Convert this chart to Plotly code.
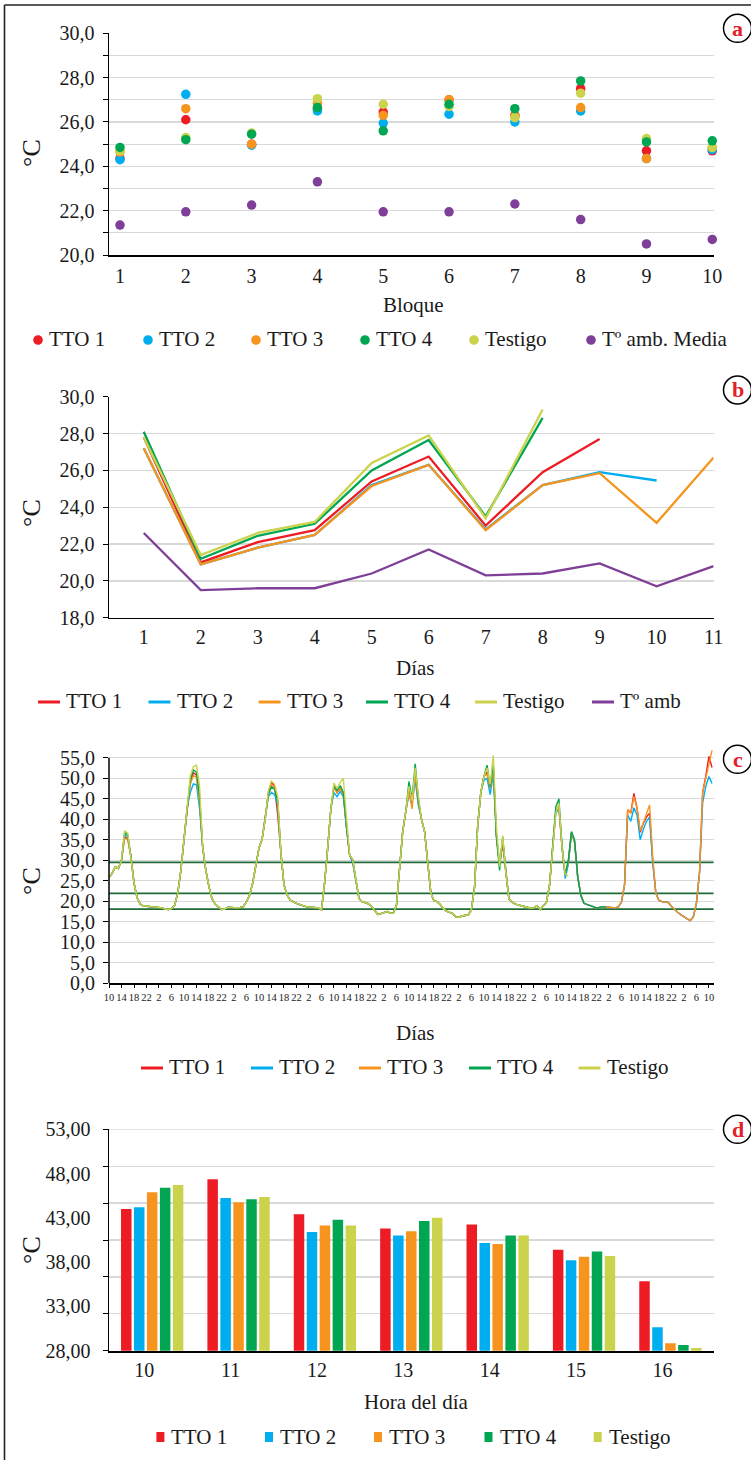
import plotly.graph_objects as go

# ======================= DATA =======================
series_names = ["TTO 1", "TTO 2", "TTO 3", "TTO 4", "Testigo"]

# ---- (a) mean temperature per block
bloques = [1, 2, 3, 4, 5, 6, 7, 8, 9, 10]
a_tto1 = [24.35, 26.1, 25.0, 26.6, 26.45, 27.0, 26.3, 27.5, 24.7, 24.7]
a_tto2 = [24.3, 27.25, 24.95, 26.5, 25.95, 26.35, 26.0, 26.5, 24.35, 24.75]
a_tto3 = [24.65, 26.6, 25.0, 26.85, 26.3, 27.0, 26.25, 26.65, 24.35, 24.85]
a_tto4 = [24.85, 25.2, 25.45, 26.65, 25.6, 26.8, 26.6, 27.85, 25.1, 25.15]
a_test = [24.7, 25.3, 25.5, 27.05, 26.8, 26.7, 26.2, 27.3, 25.25, 24.85]
a_tamb = [21.35, 21.95, 22.25, 23.3, 21.95, 21.95, 22.3, 21.6, 20.5, 20.7]
a_tick_text = ["20,0", "", "22,0", "", "24,0", "", "26,0", "", "28,0", "", "30,0"]

# ---- (b) daily mean temperature
dias = [1, 2, 3, 4, 5, 6, 7, 8, 9, 10, 11]
b_tto1 = [27.8, 21.0, 22.1, 22.75, 25.4, 26.75, 23.0, 25.9, 27.7]
b_tto2 = [27.2, 20.9, 21.8, 22.5, 25.2, 26.3, 22.8, 25.2, 25.9, 25.45]
b_tto3 = [27.2, 20.9, 21.8, 22.5, 25.15, 26.3, 22.75, 25.2, 25.85, 23.15, 26.7]
b_tto4 = [28.1, 21.2, 22.45, 23.1, 26.0, 27.65, 23.5, 28.85]
b_test = [27.8, 21.4, 22.6, 23.2, 26.4, 27.9, 23.4, 29.3]
b_tamb = [22.6, 19.5, 19.6, 19.6, 20.4, 21.7, 20.3, 20.4, 20.95, 19.7, 20.8]
b_tick_text = ["18,0", "20,0", "22,0", "24,0", "26,0", "28,0", "30,0"]

# ---- (c) hourly temperature (one value per hour)
c_hour_labels = ["10", "14", "18", "22", "2", "6"] * 8 + ["10"]
c_tto1 = [
    25.8, 26.8, 28.4, 28.0, 30.0, 35.8, 35.2, 31.0, 24.5, 20.8,
    19.3, 18.9, 18.8, 18.7, 18.7, 18.6, 18.5, 18.4, 18.1, 18.0,
    18.2, 19.0, 22.0, 27.5, 35.0, 42.8, 49.0, 51.3, 50.8, 44.0,
    33.0, 27.5, 23.5, 20.5, 19.3, 18.6, 18.0, 18.1, 18.5, 18.5,
    18.4, 18.4, 18.5, 18.7, 19.9, 21.5, 24.5, 28.5, 33.0, 35.1,
    40.0, 46.5, 49.0, 48.0, 41.0, 32.0, 24.0, 21.5, 20.3, 19.8,
    19.5, 19.2, 18.9, 18.7, 18.6, 18.5, 18.5, 18.4, 17.9, 24.5,
    33.0, 42.5, 48.0, 46.5, 47.5, 46.5, 38.0, 31.3, 29.5, 25.5,
    20.7, 19.9, 19.6, 19.4, 18.8, 17.8, 16.8, 17.0, 17.3, 17.5,
    17.1, 17.1, 19.0, 28.0, 37.0, 42.0, 47.0, 44.0, 51.0, 44.0,
    40.0, 37.0, 29.5, 22.0, 20.1, 19.9, 19.2, 18.2, 17.6, 17.3,
    17.0, 16.2, 16.1, 16.4, 16.5, 16.7, 18.0, 23.5, 38.5, 46.5,
    50.5, 51.5, 47.5, 52.5, 36.0, 29.0, 34.0, 27.0, 20.5, 19.8,
    19.3, 19.1, 18.9, 18.7, 18.4, 18.3, 18.4, 18.9, 18.0, 18.8,
    19.8, 24.0, 33.7, 42.0, 43.0, 33.0, 26.4, 29.5, 36.8, 34.5,
    26.0, 21.5, 19.5, 19.2, 19.0, 18.7, 18.4, 18.5, 18.7, 18.6,
    18.5, 18.4, 18.4, 18.6, 19.8, 24.0, 42.3, 41.5, 46.3, 42.7,
    36.8, 39.0, 40.5, 41.5, 30.0, 22.0, 20.2, 19.9, 19.8, 19.7,
    18.8, 18.0, 17.3, 16.7, 16.2, 15.6, 15.3, 16.2, 19.5, 27.0,
    46.5, 50.5, 55.3, 52.6,
]
c_tto2 = [
    25.8, 26.8, 28.4, 28.0, 30.0, 36.3, 35.8, 31.0, 24.5, 20.8,
    19.3, 18.9, 18.8, 18.7, 18.7, 18.6, 18.5, 18.4, 18.1, 18.0,
    18.2, 19.0, 22.0, 27.5, 35.0, 42.8, 46.5, 48.6, 48.4, 42.5,
    33.0, 27.5, 23.5, 20.5, 19.3, 18.6, 18.0, 18.1, 18.5, 18.5,
    18.4, 18.4, 18.5, 18.7, 19.9, 21.5, 24.5, 28.5, 33.0, 35.1,
    40.0, 45.5, 46.5, 46.0, 43.5, 32.0, 24.0, 21.5, 20.3, 19.8,
    19.5, 19.2, 18.9, 18.7, 18.6, 18.5, 18.5, 18.4, 17.9, 24.5,
    33.0, 42.5, 46.5, 45.5, 46.8, 45.5, 38.0, 31.3, 29.5, 25.5,
    20.7, 19.9, 19.6, 19.4, 18.8, 17.8, 16.8, 17.0, 17.3, 17.5,
    17.1, 17.1, 19.0, 28.0, 37.0, 42.0, 46.0, 44.0, 49.5, 43.5,
    40.0, 37.0, 29.5, 22.0, 20.1, 19.9, 19.2, 18.2, 17.6, 17.3,
    17.0, 16.2, 16.1, 16.4, 16.5, 16.7, 18.0, 23.5, 38.5, 46.5,
    49.5, 50.0, 46.0, 51.0, 36.0, 29.0, 35.0, 27.0, 20.5, 19.8,
    19.3, 19.1, 18.9, 18.7, 18.4, 18.3, 18.4, 18.9, 18.0, 18.8,
    19.8, 24.0, 33.7, 41.5, 42.5, 33.0, 25.5, 29.0, 36.5, 34.5,
    26.0, 21.5, 19.5, 19.2, 19.0, 18.7, 18.4, 18.5, 18.7, 18.6,
    18.5, 18.4, 18.4, 18.6, 19.8, 24.0, 41.0, 39.5, 42.8, 41.0,
    35.0, 37.5, 39.5, 40.5, 29.5, 22.0, 20.2, 19.9, 19.8, 19.7,
    18.8, 18.0, 17.3, 16.7, 16.2, 15.6, 15.3, 16.2, 19.5, 27.0,
    44.0, 48.0, 50.4, 48.7,
]
c_tto3 = [
    25.8, 26.8, 28.4, 28.0, 30.0, 35.4, 35.0, 31.0, 24.5, 20.8,
    19.3, 18.9, 18.8, 18.7, 18.7, 18.6, 18.5, 18.4, 18.1, 18.0,
    18.2, 19.0, 22.0, 27.5, 35.0, 42.8, 48.5, 50.6, 50.3, 44.0,
    33.0, 27.5, 23.5, 20.5, 19.3, 18.6, 18.0, 18.1, 18.5, 18.5,
    18.4, 18.4, 18.5, 18.7, 19.9, 21.5, 24.5, 28.5, 33.0, 35.1,
    40.0, 46.0, 48.2, 47.5, 44.5, 32.0, 24.0, 21.5, 20.3, 19.8,
    19.5, 19.2, 18.9, 18.7, 18.6, 18.5, 18.5, 18.4, 17.9, 24.5,
    33.0, 42.5, 47.8, 46.5, 47.5, 46.0, 38.5, 31.3, 30.2, 25.5,
    20.7, 19.9, 19.6, 19.4, 18.8, 17.8, 16.8, 17.0, 17.3, 17.5,
    17.1, 17.1, 19.0, 28.0, 37.0, 42.0, 46.5, 42.5, 51.0, 44.5,
    40.0, 37.0, 29.5, 22.0, 20.1, 19.9, 19.2, 18.2, 17.6, 17.3,
    17.0, 16.2, 16.1, 16.4, 16.5, 16.7, 18.0, 23.5, 38.5, 46.5,
    50.5, 51.0, 47.5, 52.0, 36.0, 29.0, 35.0, 27.0, 20.5, 19.8,
    19.3, 19.1, 18.9, 18.7, 18.4, 18.3, 18.4, 18.9, 18.0, 18.8,
    19.8, 24.0, 33.7, 42.0, 43.0, 33.0, 26.4, 29.5, 36.8, 34.5,
    26.0, 21.5, 19.5, 19.2, 19.0, 18.7, 18.4, 18.5, 18.7, 18.6,
    18.5, 18.4, 18.4, 18.6, 19.8, 24.0, 42.2, 41.5, 45.5, 42.7,
    37.2, 39.0, 41.5, 43.5, 31.0, 22.0, 20.2, 19.9, 19.8, 19.7,
    18.8, 18.0, 17.3, 16.7, 16.2, 15.6, 15.3, 16.2, 19.5, 27.0,
    46.5, 50.0, 53.5, 56.8,
]
c_tto4 = [
    25.8, 26.8, 28.4, 28.0, 30.0, 36.8, 36.2, 31.0, 24.5, 20.8,
    19.3, 18.9, 18.8, 18.7, 18.7, 18.6, 18.5, 18.4, 18.1, 18.0,
    18.2, 19.0, 22.0, 27.5, 35.0, 42.8, 49.5, 52.0, 51.5, 45.5,
    33.0, 27.5, 23.5, 20.5, 19.3, 18.6, 18.0, 18.1, 18.5, 18.5,
    18.4, 18.4, 18.5, 18.7, 19.9, 21.5, 24.5, 28.5, 33.0, 35.1,
    40.0, 46.0, 47.9, 47.3, 44.5, 32.0, 24.0, 21.5, 20.3, 19.8,
    19.5, 19.2, 18.9, 18.7, 18.6, 18.5, 18.5, 18.4, 17.9, 24.5,
    33.0, 42.5, 48.2, 47.0, 48.2, 46.5, 38.5, 31.3, 30.2, 25.5,
    20.7, 19.9, 19.6, 19.4, 18.8, 17.8, 16.8, 17.0, 17.3, 17.5,
    17.1, 17.1, 19.0, 28.0, 37.0, 42.0, 49.2, 45.0, 53.5, 45.0,
    40.0, 37.0, 29.5, 22.0, 20.1, 19.9, 19.2, 18.2, 17.6, 17.3,
    17.0, 16.2, 16.1, 16.4, 16.5, 16.7, 18.0, 23.5, 38.5, 46.5,
    50.5, 53.2, 48.0, 53.5, 35.5, 27.5, 35.8, 27.0, 20.5, 19.8,
    19.3, 19.1, 18.9, 18.7, 18.4, 18.3, 18.4, 18.9, 18.0, 18.8,
    19.8, 24.0, 33.7, 43.0, 45.0, 33.0, 26.4, 30.0, 37.0, 35.0,
    26.0, 21.5, 19.5, 19.2, 19.0, 18.7, 18.4, 18.5, 18.7, 18.6,
]
c_test = [
    25.8, 26.8, 28.4, 28.0, 30.0, 37.2, 36.6, 31.0, 24.5, 20.8,
    19.3, 18.9, 18.8, 18.7, 18.7, 18.6, 18.5, 18.4, 18.1, 18.0,
    18.2, 19.0, 22.0, 27.5, 35.0, 42.8, 50.5, 52.8, 53.2, 48.0,
    33.0, 27.5, 23.5, 20.5, 19.3, 18.6, 18.0, 18.1, 18.5, 18.5,
    18.4, 18.4, 18.5, 18.7, 19.9, 21.5, 24.5, 28.5, 33.0, 35.1,
    40.0, 47.0, 49.3, 48.5, 45.5, 32.0, 24.0, 21.5, 20.3, 19.8,
    19.5, 19.2, 18.9, 18.7, 18.6, 18.5, 18.5, 18.4, 17.9, 24.5,
    33.0, 42.5, 48.8, 47.5, 49.0, 50.0, 40.5, 31.3, 30.2, 25.5,
    20.7, 19.9, 19.6, 19.4, 18.8, 17.8, 16.8, 17.0, 17.3, 17.5,
    17.1, 17.1, 19.0, 28.0, 37.0, 42.0, 48.0, 44.5, 52.5, 46.0,
    40.0, 37.0, 29.5, 22.0, 20.1, 19.9, 19.2, 18.2, 17.6, 17.3,
    17.0, 16.2, 16.1, 16.4, 16.5, 16.7, 18.0, 23.5, 38.5, 46.5,
    50.5, 52.5, 48.5, 55.6, 38.0, 28.5, 36.0, 27.0, 20.5, 19.8,
    19.3, 19.1, 18.9, 18.7, 18.4, 18.3, 18.4, 18.9, 18.0, 18.8,
    19.8, 24.0, 33.7, 41.5, 44.0, 33.0, 26.6, 26.2,
]
c_ref_lines = [29.5, 21.9, 18.1]
c_tick_text = ["0,0", "5,0", "10,0", "15,0", "20,0", "25,0", "30,0",
               "35,0", "40,0", "45,0", "50,0", "55,0"]

# ---- (d) temperature by hour of day
horas = ["10", "11", "12", "13", "14", "15", "16"]
d_tto1 = [44.0, 47.35, 43.4, 41.8, 42.25, 39.4, 35.85]
d_tto2 = [44.2, 45.25, 41.4, 41.0, 40.15, 38.2, 30.65]
d_tto3 = [45.9, 44.75, 42.15, 41.5, 40.05, 38.6, 28.85]
d_tto4 = [46.4, 45.1, 42.8, 42.65, 41.0, 39.2, 28.65]
d_test = [46.7, 45.35, 42.15, 43.0, 41.0, 38.7, 28.3]
d_tick_vals = [28, 33, 38, 43, 48, 53]
d_tick_text = ["28,00", "33,00", "38,00", "43,00", "48,00", "53,00"]

# ======================= STYLE / LAYOUT =======================
W, H = 751, 1460
FONT = "Liberation Serif"
INK = "#1a1a1a"
GRID = "#d9d9d9"
COL = {"TTO 1": "#ED1C24", "TTO 2": "#00AEEF", "TTO 3": "#F7941D",
       "TTO 4": "#00A651", "Testigo": "#CBD34C", "amb": "#7F3F98"}
REF_GREEN = "#1E6B38"


def px(x):
    return x / W


def py(y):
    return 1 - y / H


X_DOM = [px(109), px(713.6)]

fig = go.Figure()

# ---------- panel a (scatter markers)
a_series = [("TTO 1", a_tto1), ("TTO 2", a_tto2), ("TTO 3", a_tto3),
            ("Testigo", a_test), ("TTO 4", a_tto4)]
for name, vals in a_series:
    fig.add_trace(go.Scatter(x=bloques, y=vals, mode="markers", name=name,
                             marker=dict(size=9.5, color=COL[name]),
                             cliponaxis=False, showlegend=False,
                             xaxis="x", yaxis="y"))
fig.add_trace(go.Scatter(x=bloques, y=a_tamb, mode="markers",
                         name="Tº amb. Media",
                         marker=dict(size=9.5, color=COL["amb"]),
                         cliponaxis=False, showlegend=False,
                         xaxis="x", yaxis="y"))

# ---------- panel b (lines)
b_series = [("TTO 1", b_tto1), ("TTO 2", b_tto2), ("TTO 3", b_tto3),
            ("TTO 4", b_tto4), ("Testigo", b_test)]
for name, vals in b_series:
    fig.add_trace(go.Scatter(x=dias[:len(vals)], y=vals, mode="lines",
                             name=name, line=dict(color=COL[name], width=2.3),
                             showlegend=False, xaxis="x2", yaxis="y2"))
fig.add_trace(go.Scatter(x=dias, y=b_tamb, mode="lines", name="Tº amb",
                         line=dict(color=COL["amb"], width=2.3),
                         showlegend=False, xaxis="x2", yaxis="y2"))

# ---------- panel c (hourly lines)
c_series = [("TTO 1", c_tto1), ("TTO 2", c_tto2), ("TTO 3", c_tto3),
            ("TTO 4", c_tto4), ("Testigo", c_test)]
for name, vals in c_series:
    fig.add_trace(go.Scatter(x=list(range(len(vals))), y=vals, mode="lines",
                             name=name, line=dict(color=COL[name], width=1.4),
                             showlegend=False, xaxis="x3", yaxis="y3"))

# ---------- panel d (bars)
d_series = [("TTO 1", d_tto1), ("TTO 2", d_tto2), ("TTO 3", d_tto3),
            ("TTO 4", d_tto4), ("Testigo", d_test)]
for name, vals in d_series:
    fig.add_trace(go.Bar(x=horas, y=vals, name=name,
                         marker=dict(color=COL[name], line=dict(width=0)),
                         showlegend=False, xaxis="x4", yaxis="y4"))

tickfont = dict(family=FONT, size=20, color=INK)


def yax(domain, rng, **kw):
    d = dict(domain=domain, range=rng, showline=True, linecolor="black",
             linewidth=1.5, zeroline=False, showgrid=True, gridcolor=GRID,
             gridwidth=1.3, ticks="outside", ticklen=5, tickcolor="black",
             tickwidth=1, tickfont=tickfont, ticklabelstandoff=4,
             fixedrange=True)
    d.update(kw)
    return d


def xax(anchor, rng, **kw):
    d = dict(domain=X_DOM, anchor=anchor, range=rng, showline=True,
             linecolor="black", linewidth=1.5, zeroline=False,
             showgrid=False, ticks="", tickfont=tickfont, fixedrange=True,
             tickangle=0)
    d.update(kw)
    return d


# panel c y scale: 55 at 757.7 px, 0 at 983.3 px, range to 57
c_ppu = (983.3 - 757.7) / 55.0
c_top = 983.3 - 57 * c_ppu

fig.update_layout(
    width=W, height=H, template="none",
    margin=dict(l=0, r=0, t=0, b=0),
    paper_bgcolor="white", plot_bgcolor="rgba(0,0,0,0)",
    font=dict(family=FONT, color=INK),
    showlegend=False,
    barmode="group", bargap=0.25, bargroupgap=0.19,
    xaxis=xax("y", [0.833, 10.02], tickmode="array", tickvals=bloques,
              ticklabelstandoff=2),
    yaxis=yax([py(255), py(33.3)], [20, 30], anchor="x", tickmode="array",
              tickvals=[20, 21, 22, 23, 24, 25, 26, 27, 28, 29, 30],
              ticktext=a_tick_text),
    xaxis2=xax("y2", [0.39, 11.0], tickmode="array", tickvals=dias,
               ticklabelstandoff=1),
    yaxis2=yax([py(617.7), py(396.7)], [18, 30], anchor="x2",
               tickmode="array", tickvals=[18, 20, 22, 24, 26, 28, 30],
               ticktext=b_tick_text),
    xaxis3=xax("y3", [0, 193.5], tickmode="array",
               tickvals=list(range(0, 193, 4)), ticktext=c_hour_labels,
               tickfont=dict(family=FONT, size=10.5, color=INK),
               ticks="outside", ticklen=3, tickcolor="black",
               linewidth=2),
    yaxis3=yax([py(983.3), py(c_top)], [0, 57], anchor="x3",
               tickmode="array", tickvals=[0, 5, 10, 15, 20, 25, 30, 35, 40,
                                           45, 50, 55],
               ticktext=c_tick_text, showline=False),
    xaxis4=xax("y4", [-0.5, 6.5], type="category", ticklabelshift=-8,
               ticklabelstandoff=0, linewidth=2),
    yaxis4=yax([py(1350.7), py(1129.3)], [28, 53], anchor="x4",
               tickmode="array", tickvals=d_tick_vals, ticktext=d_tick_text,
               showgrid=False, ticks="", ticklabelstandoff=13,
               minor=dict(tickmode="linear", tick0=28, dtick=25 / 6,
                          showgrid=True, gridcolor=GRID, gridwidth=1.3,
                          ticks="outside", ticklen=5, tickcolor="black")),
)

shapes = []
annotations = []

# panel c reference lines and y axis line
for v in c_ref_lines:
    shapes.append(dict(type="line", xref="x3 domain", yref="y3", x0=0, x1=1,
                       y0=v, y1=v, layer="below",
                       line=dict(color=REF_GREEN, width=1.8)))
shapes.append(dict(type="line", xref="x3 domain", yref="y3", x0=0, x1=0,
                   y0=0, y1=55, line=dict(color="black", width=1.5)))
# panel d top gridline
shapes.append(dict(type="line", xref="x4 domain", yref="y4", x0=0, x1=1,
                   y0=53, y1=53, layer="below",
                   line=dict(color=GRID, width=1.3)))

# outer frame (left + top)
shapes.append(dict(type="line", xref="paper", yref="paper", x0=px(4.5),
                   x1=px(4.5), y0=0, y1=py(5),
                   line=dict(color="#222", width=1.6)))
shapes.append(dict(type="line", xref="paper", yref="paper", x0=px(4.5),
                   x1=1.0, y0=py(5), y1=py(5),
                   line=dict(color="#222", width=1.6)))

# circled panel letters
for letter, cy in [("a", 28.3), ("b", 390.0), ("c", 759.3), ("d", 1129.3)]:
    shapes.append(dict(type="circle", xref="paper", yref="paper",
                       x0=px(723.5), x1=px(751.5), y0=py(cy + 14),
                       y1=py(cy - 14), line=dict(color="black", width=1.5)))
    annotations.append(dict(text=f"<b>{letter}</b>", xref="paper",
                            yref="paper", x=px(737.5), y=py(cy),
                            xanchor="center", yanchor="middle",
                            showarrow=False,
                            font=dict(family=FONT, size=22,
                                      color="#E3202A")))

# axis titles
ytitle_font = dict(family=FONT, size=26, color=INK)
xtitle_font = dict(family=FONT, size=21, color=INK)
for yc in [153, 513, 881, 1250]:
    annotations.append(dict(text="°C", xref="paper", yref="paper",
                            x=px(31), y=py(yc), textangle=-90,
                            xanchor="center", yanchor="middle",
                            showarrow=False, font=ytitle_font))
for txt, xc, yc in [("Bloque", 413, 305), ("Días", 416, 668),
                    ("Días", 416, 1033), ("Hora del día", 416, 1402)]:
    annotations.append(dict(text=txt, xref="paper", yref="paper", x=px(xc),
                            y=py(yc), xanchor="center", yanchor="middle",
                            showarrow=False, font=xtitle_font))

# custom legends
leg_font = dict(family=FONT, size=21, color=INK)


def legend_text(txt, x, y):
    annotations.append(dict(text=txt, xref="paper", yref="paper", x=px(x),
                            y=py(y), xanchor="left", yanchor="middle",
                            showarrow=False, font=leg_font))


# legend a (markers)
leg_a = [("TTO 1", COL["TTO 1"], 38), ("TTO 2", COL["TTO 2"], 148),
         ("TTO 3", COL["TTO 3"], 256), ("TTO 4", COL["TTO 4"], 365),
         ("Testigo", COL["Testigo"], 474), ("Tº amb. Media", COL["amb"], 591)]
for name, c, xm in leg_a:
    r = 4.8
    shapes.append(dict(type="circle", xref="paper", yref="paper",
                       x0=px(xm - r), x1=px(xm + r), y0=py(340 + r),
                       y1=py(340 - r), fillcolor=c, line=dict(width=0)))
    legend_text(name, xm + 9, 339)

# legend b (lines)
leg_b = [("TTO 1", COL["TTO 1"], 38), ("TTO 2", COL["TTO 2"], 148.5),
         ("TTO 3", COL["TTO 3"], 258.6), ("TTO 4", COL["TTO 4"], 366),
         ("Testigo", COL["Testigo"], 475), ("Tº amb", COL["amb"], 592)]
for name, c, xl in leg_b:
    shapes.append(dict(type="line", xref="paper", yref="paper", x0=px(xl),
                       x1=px(xl + 22), y0=py(702), y1=py(702),
                       line=dict(color=c, width=3)))
    legend_text(name, xl + 26, 701)

# legend c (lines)
leg_c = [("TTO 1", COL["TTO 1"], 141), ("TTO 2", COL["TTO 2"], 251),
         ("TTO 3", COL["TTO 3"], 359), ("TTO 4", COL["TTO 4"], 469),
         ("Testigo", COL["Testigo"], 578.5)]
for name, c, xl in leg_c:
    shapes.append(dict(type="line", xref="paper", yref="paper", x0=px(xl),
                       x1=px(xl + 22), y0=py(1068), y1=py(1068),
                       line=dict(color=c, width=3)))
    legend_text(name, xl + 26, 1067)

# legend d (squares)
leg_d = [("TTO 1", COL["TTO 1"], 160.4), ("TTO 2", COL["TTO 2"], 269),
         ("TTO 3", COL["TTO 3"], 378), ("TTO 4", COL["TTO 4"], 488.5),
         ("Testigo", COL["Testigo"], 597.7)]
for name, c, xs in leg_d:
    shapes.append(dict(type="rect", xref="paper", yref="paper",
                       x0=px(xs - 4), x1=px(xs + 4), y0=py(1442),
                       y1=py(1432), fillcolor=c, line=dict(width=0)))
    legend_text(name, xs + 9, 1436.5)

fig.update_layout(shapes=shapes, annotations=annotations)

fig.write_html("out.html",
               config={"displayModeBar": False, "staticPlot": True},
               post_script="document.body.style.margin='0';"
                           "document.body.style.overflow='hidden';")
